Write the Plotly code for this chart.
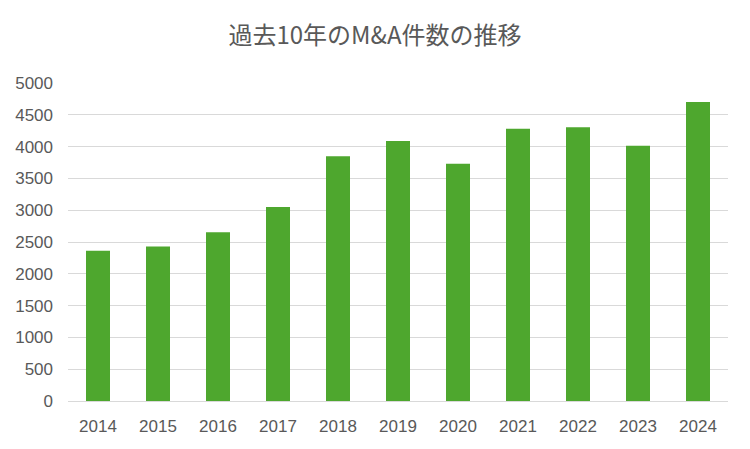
import plotly.graph_objects as go

years = ["2014", "2015", "2016", "2017", "2018", "2019", "2020", "2021", "2022", "2023", "2024"]
counts = [2364, 2428, 2652, 3050, 3850, 4088, 3730, 4280, 4304, 4015, 4700]
y_ticks = [0, 500, 1000, 1500, 2000, 2500, 3000, 3500, 4000, 4500, 5000]
title_text = "過去10年のM&A件数の推移"

# the page body adds an 8px offset, so the layout is shifted up/left by 8px
fig = go.Figure(go.Bar(x=years, y=counts, marker_color="#4ea72e", marker_line_width=0))

fig.update_layout(
    width=750, height=449,
    margin=dict(l=60, r=30, t=75, b=56),
    paper_bgcolor="white", plot_bgcolor="white",
    bargap=0.6,
    showlegend=False,
    title=dict(text=title_text, x=(375 - 8) / 750, xanchor="center", y=1 - 28 / 449, yanchor="middle",
               font=dict(family="Noto Sans CJK JP", size=24, color="#595959")),
    font=dict(family="Liberation Sans, Arial", size=17, color="#595959"),
)
fig.update_xaxes(type="category", showgrid=False, showline=False, zeroline=False,
                 automargin=False, ticks="", ticklabelstandoff=13,
                 tickfont=dict(size=17, color="#595959"))
fig.update_yaxes(range=[0, 5000], tickvals=y_ticks, showgrid=True, gridcolor="#d9d9d9",
                 gridwidth=1, zeroline=True, zerolinecolor="#d9d9d9", zerolinewidth=1,
                 automargin=False, showline=False, ticks="", ticklabelstandoff=14,
                 tickfont=dict(size=17, color="#595959"))

fig.write_html("out.html")
